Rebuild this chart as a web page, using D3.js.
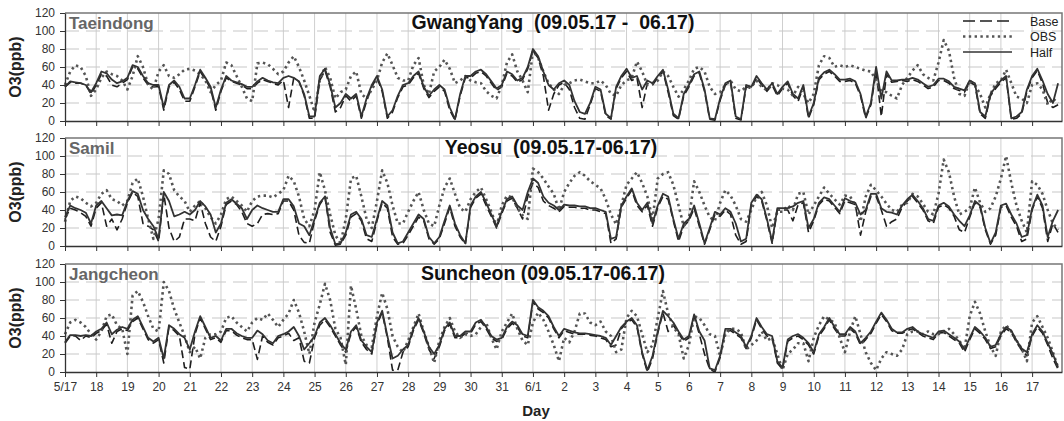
<!DOCTYPE html>
<html>
<head>
<meta charset="utf-8">
<script src="https://cdn.jsdelivr.net/npm/d3@7"></script>
<style>
  body { margin: 0; background: #fff; }
  svg { display: block; font-family: Arial, "Liberation Sans", sans-serif; }
  .title { white-space: pre; }
</style>
</head>
<body>
<svg id="chart" width="1064" height="421"></svg>
<script>
// O3 time series, 2009-05-17 .. 06-17, three sites; values every 4 hours
const dayLabels = ["5/17","18","19","20","21","22","23","24","25","26","27","28","29","30","31",
                   "6/1","2","3","4","5","6","7","8","9","10","11","12","13","14","15","16","17"];
const sampleHours = [0, 4, 8, 12, 16, 20];
const yTicks = [0, 20, 40, 60, 80, 100, 120];
const stations = ["Taeindong", "Samil", "Jangcheon"];
const titles = ["GwangYang  (09.05.17 -  06.17)", "Yeosu  (09.05.17-06.17)", "Suncheon (09.05.17-06.17)"];
const seriesNames = ["Base", "OBS", "Half"];

// GwangYang / Taeindong
const gyBase = [38,43,42,42,40,30, 40,52,50,40,38,42, 46,60,58,48,40,38, 38,12,38,43,35,22,
  22,38,55,46,36,12, 33,48,44,42,40,36, 36,42,46,44,42,40, 45,15,48,44,28,3,
  3,45,56,38,10,15, 28,22,28,3,22,38, 48,33,3,10,26,38, 40,48,53,36,26,33,
  38,33,12,1,28,48, 48,53,55,50,42,34, 38,53,50,43,46,58, 78,70,50,12,30,40,
  43,35,15,3,2,18, 36,33,6,2,36,48, 55,45,48,15,42,40, 48,55,32,6,2,28,
  38,50,53,33,2,1, 23,40,43,3,1,38, 36,48,40,33,40,28, 36,42,28,22,38,3,
  18,46,52,55,50,44, 44,45,42,28,3,18, 55,5,52,43,44,45, 44,46,44,40,36,38,
  45,45,42,36,34,32, 43,40,8,3,28,36, 43,48,2,3,8,33, 48,56,42,20,15,18];
const gyObs = [40,55,62,60,50,28, 35,48,55,52,50,45, 35,50,72,60,40,35, 55,62,50,48,52,57,
  58,56,52,45,32,40, 45,65,62,50,38,25, 22,64,65,63,58,52, 55,65,72,60,45,28,
  10,45,60,48,25,32, 35,50,55,30,25,35, 45,65,75,62,48,45, 45,62,70,40,30,55,
  60,68,58,42,45,50, 45,43,42,33,28,25, 40,65,74,55,45,32, 78,70,55,42,35,30,
  40,42,45,46,44,42, 42,45,40,30,28,40, 45,48,66,55,40,42, 45,55,50,38,27,35,
  45,58,60,55,38,30, 32,40,45,35,33,38, 38,45,38,34,42,40, 36,35,28,38,30,20,
  30,62,72,70,60,62, 60,62,60,58,56,55, 45,33,32,28,25,40, 48,56,62,52,48,45,
  65,90,78,48,30,28, 45,40,30,15,30,42, 45,57,42,27,25,20, 40,42,35,18,25,20];
const gyHalf = [38,44,43,42,40,32, 42,55,53,46,42,44, 48,62,60,50,42,40, 40,15,40,45,38,25,
  25,40,57,48,38,15, 35,50,45,43,41,38, 38,44,48,45,43,42, 48,50,48,44,30,5,
  5,50,58,40,15,20, 30,25,30,5,25,40, 50,35,5,12,28,40, 42,50,55,38,28,35,
  40,35,15,2,30,50, 50,55,57,52,44,36, 40,55,52,45,48,60, 80,72,55,40,35,42,
  45,40,22,10,8,20, 38,35,8,3,38,50, 58,48,50,35,45,42, 50,57,35,8,3,30,
  40,52,55,35,3,2, 25,42,45,5,2,40, 38,50,42,35,42,30, 38,44,30,25,40,5,
  20,48,54,57,52,46, 46,47,44,30,5,20, 60,25,55,45,45,46, 46,48,46,42,38,40,
  47,47,44,38,36,34, 45,42,10,5,30,38, 45,50,3,5,10,35, 50,58,45,30,20,42];

// Yeosu / Samil
const ysBase = [30,42,40,37,33,22, 42,48,22,30,18,30, 48,60,55,25,22,18, 5,58,20,5,10,30,
  30,28,48,25,10,5, 22,46,50,46,38,25, 22,25,35,36,35,36, 50,50,40,12,4,3,
  28,46,55,15,1,2, 12,32,36,28,8,5, 28,48,42,10,2,3, 12,22,32,28,8,2,
  8,25,43,22,10,2, 43,53,58,45,33,20, 36,50,53,42,30,55, 70,65,50,45,42,38,
  44,43,43,42,42,40, 40,38,36,3,8,43, 53,62,45,38,45,22, 43,55,52,28,5,22,
  28,42,22,2,18,35, 33,40,35,12,2,5, 46,55,50,28,3,40, 40,40,28,46,48,15,
  28,46,52,50,43,36, 50,48,46,12,38,55, 55,40,22,27,30,43, 50,55,48,40,28,25,
  43,46,42,33,18,15, 32,48,43,18,2,12, 43,45,32,22,5,8, 40,55,42,5,25,15];
const ysObs = [27,50,55,53,48,44, 48,58,62,52,50,45, 50,70,75,55,30,8, 30,84,80,62,55,50,
  38,45,50,42,32,25, 35,52,55,50,45,38, 50,55,56,56,54,58, 62,78,72,55,30,22,
  40,82,62,35,12,3, 30,75,78,55,30,20, 50,84,70,45,25,25, 38,50,60,40,25,22,
  45,65,75,58,42,38, 52,60,65,52,38,22, 45,56,54,42,34,30, 86,82,75,66,58,40,
  60,70,78,82,78,72, 68,64,52,35,24,45, 68,75,82,70,55,30, 75,80,82,68,45,22,
  30,72,60,45,32,28, 48,62,56,45,30,27, 40,55,60,45,20,38, 38,45,40,58,60,35,
  45,55,65,58,52,46, 56,55,45,27,55,68, 62,55,47,40,38,46, 48,58,55,47,38,35,
  58,96,82,55,35,38, 42,65,48,38,42,55, 75,100,70,45,28,15, 72,68,58,40,25,18];
const ysHalf = [32,45,42,40,37,25, 45,50,42,34,35,34, 50,61,58,40,30,22, 8,60,50,33,35,38,
  35,40,50,44,35,15, 25,48,52,47,42,30, 40,45,42,40,38,38, 52,52,44,25,22,12,
  30,48,55,20,2,3, 15,35,38,30,12,10, 30,50,45,15,3,5, 15,25,35,30,10,3,
  10,28,45,25,12,3, 45,55,60,48,35,22, 38,52,55,45,40,60, 75,70,55,48,45,40,
  46,45,45,44,44,42, 42,40,38,8,10,45, 55,64,48,40,48,25, 45,58,55,30,8,25,
  30,45,25,3,20,38, 35,42,38,25,5,8, 48,57,52,30,5,42, 42,42,44,48,50,20,
  30,48,54,52,45,38, 53,50,48,35,40,58, 58,42,38,37,35,45, 52,57,50,42,30,28,
  45,48,44,35,28,22, 34,50,45,20,3,15, 45,47,35,25,10,12, 42,57,45,10,28,40];

// Suncheon / Jangcheon
const scBase = [32,40,40,35,40,38, 43,46,53,32,45,48, 46,56,60,48,36,32, 36,10,50,46,40,5,
  3,42,60,48,36,38, 33,46,46,41,38,36, 36,14,40,33,30,38, 40,43,35,38,12,10,
  38,52,58,50,40,30, 22,43,50,33,25,20, 53,66,38,2,2,22, 28,46,58,43,25,15,
  28,46,53,38,38,43, 43,53,56,48,38,34, 36,48,54,50,40,38, 78,70,66,60,48,38,
  46,44,42,42,42,41, 40,38,36,28,30,48, 55,58,50,20,0,15, 43,66,45,52,43,34,
  38,62,42,20,3,0, 16,46,46,42,38,26, 38,58,48,40,38,10, 3,34,38,40,36,30,
  20,40,48,58,48,40, 40,48,43,30,36,43, 54,64,56,46,43,43, 46,48,44,40,38,36,
  43,44,40,36,32,22, 36,48,43,36,26,28, 40,48,44,33,24,18, 40,50,43,30,15,3];
const scObs = [42,55,58,55,50,42, 36,45,62,64,52,48, 20,85,90,78,62,48, 45,100,90,70,55,40,
  22,28,15,38,42,42, 45,60,62,55,50,45, 55,60,58,65,58,50, 58,65,80,66,45,20,
  55,75,98,80,48,38, 8,96,70,40,30,28, 62,88,70,40,28,22, 35,50,65,45,28,10,
  35,50,60,45,38,42, 40,42,50,55,38,25, 45,55,65,48,35,30, 55,66,58,45,30,12,
  38,33,45,65,65,55, 52,56,45,40,22,25, 60,68,62,42,22,30, 60,90,65,50,42,15,
  30,62,60,52,42,40, 18,42,48,48,44,25, 30,35,45,35,38,20, 2,20,25,32,32,12,
  38,52,62,58,55,38, 22,45,62,42,22,10, 2,15,22,20,18,25, 42,45,45,42,45,42,
  42,45,48,42,35,25, 62,78,65,45,28,18, 45,52,45,35,26,12, 55,62,50,38,22,5];
const scHalf = [33,41,41,40,41,40, 45,48,55,42,47,50, 48,58,62,50,38,34, 38,15,52,48,42,38,
  25,45,62,50,38,40, 35,48,48,43,40,38, 38,46,42,35,32,40, 42,45,50,40,25,32,
  40,55,60,52,42,32, 25,45,52,35,28,22, 55,68,40,15,18,25, 30,48,60,45,28,20,
  30,48,55,40,40,45, 45,55,58,50,40,36, 38,50,56,52,42,40, 80,72,68,62,50,40,
  48,46,44,43,43,42, 41,40,38,30,40,50, 56,60,52,22,2,18, 45,68,62,55,45,36,
  40,64,45,35,4,2, 18,48,48,44,40,28, 40,60,50,42,40,12, 5,36,40,42,38,32,
  22,42,50,60,50,42, 42,50,45,32,38,45, 56,66,58,48,44,44, 48,50,45,42,40,38,
  45,46,42,38,34,25, 38,50,45,38,28,30, 42,50,46,35,26,22, 42,52,45,32,20,5];

const panelSeries = [
  [gyBase, gyObs, gyHalf],
  [ysBase, ysObs, ysHalf],
  [scBase, scObs, scHalf]
];

const styles = {
  Base: { stroke: "#1e1e1e", width: 1.6, dash: "8,4" },
  OBS:  { stroke: "#555", width: 2.6, dash: "2.4,3.4" },
  Half: { stroke: "#333", width: 1.8, dash: null }
};

const left = 65, right = 1062;
const panelTops = [13, 138, 264];
const panelH = 108;

const svg = d3.select("#chart");
const x = d3.scaleLinear().domain([0, dayLabels.length * 24 - 1]).range([left, right]);
const dayTicks = dayLabels.map((d, i) => i * 24);

function toPoints(arr) {
  return arr.map((v, i) => ({ t: Math.floor(i / sampleHours.length) * 24 + sampleHours[i % sampleHours.length], v: v }));
}

panelSeries.forEach((series, p) => {
  const top = panelTops[p];
  const y = d3.scaleLinear().domain([0, 120]).range([top + panelH, top]);
  const g = svg.append("g");

  // grid
  g.selectAll(".vg").data(dayTicks.slice(1)).enter().append("line")
    .attr("x1", d => x(d)).attr("x2", d => x(d))
    .attr("y1", top).attr("y2", top + panelH)
    .attr("stroke", "#cfcfcf").attr("stroke-width", 1);
  g.selectAll(".hg").data(yTicks.slice(1, -1)).enter().append("line")
    .attr("x1", left).attr("x2", right)
    .attr("y1", d => y(d)).attr("y2", d => y(d))
    .attr("stroke", "#c8c8c8").attr("stroke-width", 1.2)
    .attr("stroke-dasharray", "14,7");

  // frame (top / right)
  g.append("path")
    .attr("d", `M${left},${top}H${right}V${top + panelH}`)
    .attr("fill", "none").attr("stroke", "#777").attr("stroke-width", 1.5);

  // series
  const line = d3.line().x(d => x(d.t)).y(d => y(d.v));
  seriesNames.forEach((name, k) => {
    const st = styles[name];
    g.append("path")
      .datum(toPoints(series[k]))
      .attr("d", line)
      .attr("fill", "none")
      .attr("stroke", st.stroke)
      .attr("stroke-width", st.width)
      .attr("stroke-dasharray", st.dash)
      .attr("stroke-linejoin", "round");
  });

  // axes
  const ax = g.append("g")
    .attr("transform", `translate(0,${top + panelH})`)
    .call(d3.axisBottom(x).tickValues(dayTicks).tickSize(5).tickSizeOuter(0)
      .tickFormat((d, i) => p === 2 ? dayLabels[i] : ""));
  ax.select(".domain").attr("stroke", "#333").attr("stroke-width", 1.3);
  ax.selectAll(".tick line").attr("stroke", "#333");
  ax.selectAll("text").attr("font-size", 12).attr("fill", "#333").attr("dy", "0.95em");

  const ay = g.append("g")
    .attr("transform", `translate(${left},0)`)
    .call(d3.axisLeft(y).tickValues(yTicks).tickSize(5).tickSizeOuter(0).tickPadding(5));
  ay.select(".domain").attr("stroke", "#333").attr("stroke-width", 1.3);
  ay.selectAll(".tick line").attr("stroke", "#333");
  ay.selectAll("text").attr("font-size", 12).attr("fill", "#333");

  // labels
  g.append("text")
    .attr("x", left + 4).attr("y", top + 16)
    .attr("font-size", 17).attr("font-weight", "bold").attr("fill", "#666")
    .text(stations[p]);
  g.append("text")
    .attr("class", "title")
    .attr("x", [553, 551, 543][p]).attr("y", top + 16)
    .attr("text-anchor", "middle")
    .attr("font-size", 19.5).attr("font-weight", "bold").attr("fill", "#111")
    .text(titles[p]);
  g.append("text")
    .attr("transform", `translate(21,${top + panelH / 2}) rotate(-90)`)
    .attr("text-anchor", "middle")
    .attr("font-size", 16).attr("font-weight", "bold").attr("fill", "#222")
    .text("O3(ppb)");
});

// x axis title
svg.append("text")
  .attr("x", 536).attr("y", 416)
  .attr("text-anchor", "middle")
  .attr("font-size", 15).attr("font-weight", "bold").attr("fill", "#222")
  .text("Day");

// legend (top panel)
const legend = svg.append("g");
seriesNames.forEach((name, k) => {
  const st = styles[name];
  const ly = 21 + k * 15.5;
  legend.append("line")
    .attr("x1", 963).attr("x2", 1012).attr("y1", ly).attr("y2", ly)
    .attr("stroke", st.stroke).attr("stroke-width", name === "OBS" ? 2.4 : 1.6)
    .attr("stroke-dasharray", name === "Base" ? "12,5" : st.dash);
  legend.append("text")
    .attr("x", 1030).attr("y", ly + 4.5)
    .attr("font-size", 12.5).attr("fill", "#222")
    .text(name);
});
</script>
</body>
</html>
